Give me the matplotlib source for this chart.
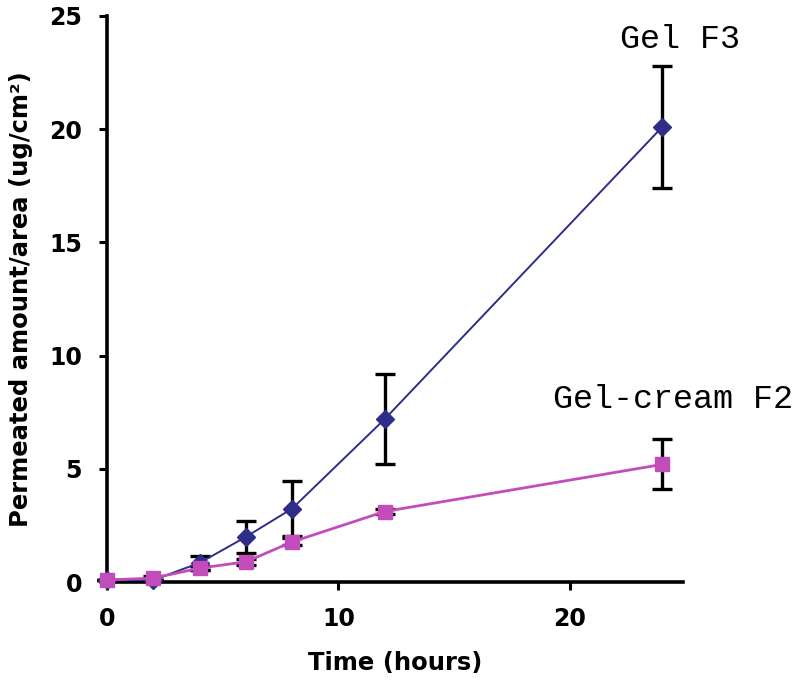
import numpy as np
import matplotlib
matplotlib.use("Agg")
import matplotlib.pyplot as plt

# tiempo de muestreo (horas)
t = [0, 2, 4, 6, 8, 12, 24]

# Gel F3
gel_f3 = [0.1, 0.1, 0.85, 2.0, 3.25, 7.2, 20.1]
gel_f3_err = [0.0, 0.0, 0.3, 0.7, 1.2, 2.0, 2.7]

# Gel-cream F2
gel_cream_f2 = [0.1, 0.18, 0.62, 0.9, 1.78, 3.12, 5.2]
gel_cream_f2_err = [0.0, 0.1, 0.1, 0.12, 0.15, 0.1, 1.1]

xticks = [0, 10, 20]
yticks = [0, 5, 10, 15, 20, 25]

navy = '#2E2E8A'
magenta = '#C24DBA'

fig = plt.figure(figsize=(7.99, 6.89), dpi=100)
ax = fig.add_axes([0.134, 0.155, 0.721, 0.822])

# barras de error primero (negras), luego las series
ax.errorbar(t, gel_f3, yerr=gel_f3_err, fmt='none', ecolor='black',
            elinewidth=2.4, capsize=7, capthick=2.4, zorder=2)
ax.errorbar(t, gel_cream_f2, yerr=gel_cream_f2_err, fmt='none', ecolor='black',
            elinewidth=2.4, capsize=7, capthick=2.4, zorder=2)

ax.plot(t, gel_f3, color=navy, lw=1.4, marker='D', ms=9, mec=navy, mfc=navy, zorder=3)
ax.plot(t, gel_cream_f2, color=magenta, lw=2.0, marker='s', ms=10, mec=magenta, mfc=magenta, zorder=4)

# etiquetas de las series
ax.text(24.75, 23.6, 'Gel F3', family='Liberation Mono',
        fontsize=24, ha='center', va='baseline')
ax.text(24.45, 7.7, 'Gel-cream F2', family='Liberation Mono',
        fontsize=24, ha='center', va='baseline')

ax.set_xlim(0, 24.9)
ax.set_ylim(0, 25)
ax.set_xticks(xticks)
ax.set_yticks(yticks)

for s in ['top', 'right']:
    ax.spines[s].set_visible(False)
for s in ['left', 'bottom']:
    ax.spines[s].set_linewidth(2.6)

ax.tick_params(direction='out', length=6, width=2.2, labelsize=17, pad=12)
for lbl in ax.get_xticklabels() + ax.get_yticklabels():
    lbl.set_fontweight('bold')

ax.set_xlabel('Time (hours)', fontsize=17.5, fontweight='bold', labelpad=14)
ax.set_ylabel('Permeated amount/area (ug/cm²)', fontsize=17.5, fontweight='bold', labelpad=12)

for line in ax.lines:
    line.set_clip_on(False)
for c in ax.collections:
    c.set_clip_on(False)

fig.savefig('out.png', dpi=100)
